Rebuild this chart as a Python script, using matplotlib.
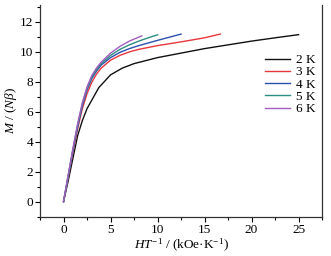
import matplotlib
matplotlib.use("Agg")
import matplotlib.pyplot as plt
from matplotlib.ticker import MultipleLocator

plt.rcParams['font.family'] = ['Liberation Serif', 'DejaVu Serif']
plt.rcParams['mathtext.fontset'] = 'custom'
plt.rcParams['mathtext.rm'] = 'Liberation Serif'
plt.rcParams['mathtext.it'] = 'Liberation Serif:italic'

# M vs H/T at several temperatures
x_2k = [0, 0.5, 1.0, 1.5, 2.0, 2.5, 3.75, 5, 6.25, 7.5, 10, 12.5, 15, 17.5, 20, 22.5, 25]
y_2k = [0, 1.4, 2.9, 4.4, 5.4, 6.2, 7.6, 8.45, 8.9, 9.2, 9.6, 9.9, 10.2, 10.45, 10.7, 10.92, 11.13]
x_3k = [0, 0.5, 1, 1.5, 2, 2.5, 3, 3.5, 4, 5, 6, 7, 8, 10, 12.5, 15, 16.67]
y_3k = [0, 1.65, 3.3, 4.85, 6.2, 7.2, 7.95, 8.5, 8.9, 9.43, 9.75, 9.98, 10.15, 10.4, 10.65, 10.92, 11.17]
x_4k = [0, 0.5, 1, 1.5, 2, 2.5, 3, 3.5, 4, 5, 6, 7, 8, 10, 12.5]
y_4k = [0, 1.7, 3.4, 5.0, 6.4, 7.45, 8.2, 8.7, 9.1, 9.6, 9.95, 10.2, 10.4, 10.75, 11.17]
x_5k = [0, 0.5, 1, 1.5, 2, 2.5, 3, 3.5, 4, 5, 6, 7, 8, 9, 10]
y_5k = [0, 1.75, 3.5, 5.1, 6.5, 7.55, 8.3, 8.8, 9.2, 9.75, 10.15, 10.45, 10.7, 10.92, 11.12]
x_6k = [0, 0.5, 1, 1.5, 2, 2.5, 3, 3.5, 4, 5, 6, 7, 8.33]
y_6k = [0, 1.8, 3.55, 5.2, 6.6, 7.65, 8.4, 8.9, 9.3, 9.9, 10.35, 10.7, 11.05]

labels = ['2 K', '3 K', '4 K', '5 K', '6 K']
colors = ['#111111', '#e8373c', '#2b4fae', '#2e8c80', '#a35dc1']

fig = plt.figure(figsize=(3.31, 2.56), dpi=100)
ax = fig.add_axes([0.121, 0.154, 0.852, 0.826])

series = [(x_2k, y_2k), (x_3k, y_3k), (x_4k, y_4k), (x_5k, y_5k), (x_6k, y_6k)]
for (xs, ys), lab, c in zip(series, labels, colors):
    ax.plot(xs, ys, color=c, lw=1.0, label=lab)

ax.set_xlim(-2.5, 27.5)
ax.set_ylim(-1, 13.1)
ax.xaxis.set_major_locator(MultipleLocator(5))
ax.xaxis.set_minor_locator(MultipleLocator(2.5))
ax.yaxis.set_major_locator(MultipleLocator(2))
ax.yaxis.set_minor_locator(MultipleLocator(1))
ax.tick_params(which='major', direction='out', length=3.5, width=0.8, labelsize=9.5, pad=1.5,
               right=False, top=False)
ax.tick_params(which='minor', direction='out', length=2, width=0.8)
ax.spines['top'].set_visible(False)
for s in ['left', 'right', 'bottom']:
    ax.spines[s].set_linewidth(0.9)
    ax.spines[s].set_color('#333333')

ax.set_xlabel(r'$HT^{-1}$ / (kOe·K$^{-1}$)', fontsize=9.5, labelpad=1)
ax.set_ylabel(r'$M$ / ($N\beta$)', fontsize=9.5, labelpad=0.5)

ax.legend(loc='upper left', bbox_to_anchor=(0.775, 0.80), frameon=False, fontsize=9.5,
          handlelength=1.9, handletextpad=0.45, labelspacing=0.0, borderpad=0)

fig.savefig('out.png', dpi=100)
